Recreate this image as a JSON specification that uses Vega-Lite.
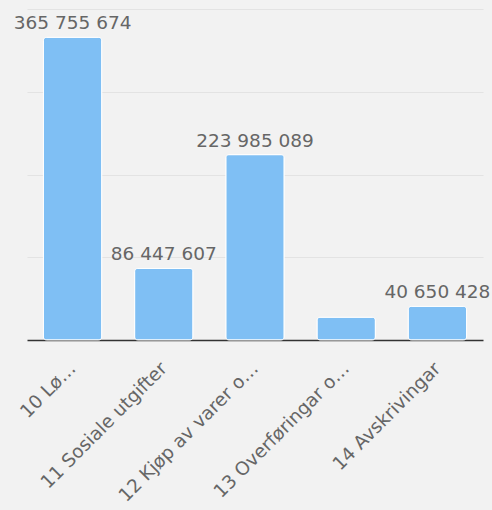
{
  "$schema": "https://vega.github.io/schema/vega-lite/v6.json",
  "width": 456,
  "height": 331,
  "autosize": {"type": "none"},
  "padding": {"left": 27, "top": 9, "right": 9, "bottom": 170},
  "background": "#f2f2f2",
  "config": {
    "view": {"stroke": null},
    "font": "DejaVu Sans",
    "locale": {"number": {"decimal": ",", "thousands": " ", "grouping": [3], "currency": ["", ""]}}
  },
  "data": {
    "values": [
      {"kategori": "10 Lø…", "belop": 365755674, "vis": true},
      {"kategori": "11 Sosiale utgifter", "belop": 86447607, "vis": true},
      {"kategori": "12 Kjøp av varer o…", "belop": 223985089, "vis": true},
      {"kategori": "13 Overføringar o…", "belop": 27500000, "vis": false},
      {"kategori": "14 Avskrivingar", "belop": 40650428, "vis": true}
    ]
  },
  "encoding": {
    "x": {
      "field": "kategori", "type": "nominal", "sort": null,
      "scale": {"paddingInner": 0.36, "paddingOuter": 0.18},
      "axis": {
        "title": null, "labelAngle": -45, "labelAlign": "right", "labelBaseline": "middle",
        "labelFontSize": 18.5, "labelColor": "#666666", "labelPadding": 25,
        "ticks": false, "domainColor": "#333333", "domainWidth": 1.3, "labelLimit": 300
      }
    },
    "y": {
      "field": "belop", "type": "quantitative",
      "scale": {"domain": [0, 400000000], "nice": false},
      "axis": {
        "title": null, "labels": false, "ticks": false, "domain": false,
        "values": [100000000, 200000000, 300000000, 400000000],
        "gridColor": "#e3e3e3", "gridWidth": 1
      }
    }
  },
  "layer": [
    {
      "mark": {"type": "bar", "color": "#7fbff4", "stroke": "#ffffff", "strokeWidth": 1, "cornerRadius": 3}
    },
    {
      "transform": [{"filter": "datum.vis"}],
      "mark": {"type": "text", "fontSize": 18.5, "color": "#666666", "baseline": "bottom", "dy": -4},
      "encoding": {"text": {"field": "belop", "type": "quantitative", "format": ",d"}}
    }
  ]
}
